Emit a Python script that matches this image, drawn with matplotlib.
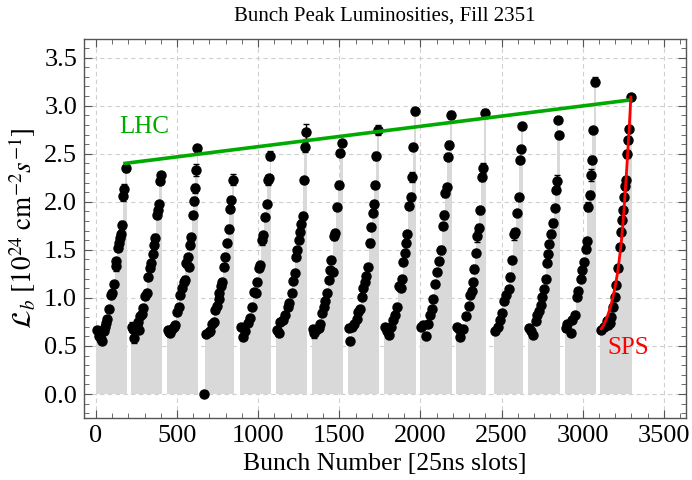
import numpy as np
import matplotlib
matplotlib.use("Agg")
import matplotlib.pyplot as plt
from matplotlib.ticker import MultipleLocator

plt.rcParams['font.family'] = ['Liberation Serif', 'DejaVu Serif']
plt.rcParams['mathtext.fontset'] = 'stix'

# bunch slot, peak luminosity [1e24 cm^-2 s^-1] and its error, one set per train
slots_01 = [5, 22, 30, 37, 48, 55, 60, 66, 78, 92, 98, 110, 122, 127, 136, 142, 148, 153, 162, 168, 174, 185]
lumi_01 = [0.67, 0.60, 0.57, 0.55, 0.66, 0.70, 0.74, 0.78, 0.89, 1.03, 1.05, 1.14, 1.33, 1.38, 1.52, 1.57, 1.62, 1.67, 1.76, 2.06, 2.13, 2.35]
err_01 = [0.02, 0.02, 0.03, 0.02, 0.02, 0.02, 0.03, 0.02, 0.03, 0.02, 0.02, 0.02, 0.05, 0.04, 0.03, 0.04, 0.03, 0.04, 0.04, 0.05, 0.06, 0.04]

slots_02 = [220, 231, 237, 251, 261, 268, 272, 282, 292, 302, 313, 323, 333, 339, 350, 358, 366, 374, 383, 389, 395, 403]
lumi_02 = [0.70, 0.68, 0.58, 0.71, 0.75, 0.67, 0.81, 0.83, 0.90, 1.02, 1.05, 1.22, 1.31, 1.36, 1.46, 1.55, 1.62, 1.86, 1.91, 1.98, 2.22, 2.28]
err_02 = [0.05, 0.03, 0.05, 0.03, 0.02, 0.03, 0.02, 0.02, 0.02, 0.03, 0.03, 0.02, 0.02, 0.02, 0.03, 0.04, 0.04, 0.03, 0.03, 0.02, 0.03, 0.03]

slots_03 = [444, 452, 459, 469, 479, 490, 500, 510, 520, 531, 541, 547, 555, 568, 572, 580, 588, 596, 602, 609, 617, 625]
lumi_03 = [0.67, 0.65, 0.63, 0.68, 0.70, 0.72, 0.85, 0.91, 1.03, 1.10, 1.17, 1.19, 1.36, 1.43, 1.32, 1.55, 1.63, 1.86, 2.01, 2.14, 2.33, 2.56]
err_03 = [0.02, 0.02, 0.03, 0.03, 0.02, 0.02, 0.03, 0.02, 0.03, 0.03, 0.03, 0.04, 0.04, 0.03, 0.03, 0.04, 0.04, 0.02, 0.04, 0.05, 0.06, 0.02]

slots_04 = [668, 681, 695, 705, 716, 726, 736, 746, 757, 761, 769, 777, 787, 798, 808, 818, 828, 835, 847]
lumi_04 = [0.00, 0.62, 0.65, 0.66, 0.73, 0.75, 0.87, 0.92, 0.99, 1.05, 1.12, 1.17, 1.32, 1.43, 1.57, 1.72, 1.93, 2.02, 2.23]
err_04 = [0.0, 0.02, 0.02, 0.03, 0.03, 0.02, 0.03, 0.03, 0.03, 0.03, 0.04, 0.03, 0.03, 0.03, 0.03, 0.04, 0.03, 0.03, 0.06]

slots_05 = [894, 908, 921, 935, 949, 962, 976, 986, 995, 1003, 1011, 1023, 1032, 1044, 1052, 1060, 1069, 1075]
lumi_05 = [0.70, 0.59, 0.66, 0.74, 0.79, 0.91, 1.06, 1.05, 1.17, 1.31, 1.34, 1.60, 1.65, 1.84, 1.98, 2.23, 2.25, 2.48]
err_05 = [0.03, 0.02, 0.02, 0.02, 0.02, 0.02, 0.02, 0.03, 0.03, 0.02, 0.02, 0.05, 0.02, 0.02, 0.02, 0.05, 0.03, 0.05]

slots_06 = [1114, 1126, 1136, 1151, 1167, 1182, 1192, 1206, 1217, 1225, 1233, 1239, 1249, 1258, 1264, 1274, 1280, 1288, 1295]
lumi_06 = [0.67, 0.63, 0.75, 0.77, 0.82, 0.91, 0.95, 1.05, 1.18, 1.26, 1.43, 1.50, 1.60, 1.69, 1.77, 1.85, 2.23, 2.57, 2.73]
err_06 = [0.02, 0.03, 0.03, 0.02, 0.03, 0.02, 0.03, 0.03, 0.02, 0.02, 0.03, 0.02, 0.02, 0.04, 0.04, 0.03, 0.02, 0.05, 0.08]

slots_07 = [1336, 1344, 1356, 1373, 1381, 1393, 1403, 1414, 1424, 1434, 1442, 1451, 1459, 1469, 1475, 1486, 1500, 1506, 1514]
lumi_07 = [0.68, 0.63, 0.67, 0.69, 0.73, 0.84, 0.91, 0.97, 1.05, 1.19, 1.29, 1.39, 1.27, 1.64, 1.68, 1.95, 2.18, 2.51, 2.61]
err_07 = [0.03, 0.05, 0.02, 0.02, 0.02, 0.02, 0.03, 0.02, 0.02, 0.02, 0.02, 0.02, 0.02, 0.04, 0.03, 0.03, 0.04, 0.02, 0.02]

slots_08 = [1557, 1568, 1578, 1592, 1607, 1617, 1627, 1640, 1648, 1656, 1664, 1674, 1689, 1697, 1705, 1711, 1720, 1728, 1736]
lumi_08 = [0.69, 0.55, 0.70, 0.73, 0.78, 0.85, 0.89, 1.01, 1.10, 1.17, 1.23, 1.32, 1.57, 1.74, 1.88, 1.98, 2.18, 2.48, 2.75]
err_08 = [0.03, 0.02, 0.02, 0.02, 0.03, 0.02, 0.02, 0.02, 0.03, 0.03, 0.02, 0.02, 0.04, 0.03, 0.03, 0.03, 0.02, 0.04, 0.05]

slots_09 = [1781, 1792, 1808, 1818, 1833, 1843, 1857, 1868, 1878, 1888, 1894, 1903, 1911, 1919, 1931, 1942, 1948, 1956, 1964]
lumi_09 = [0.70, 0.66, 0.61, 0.70, 0.77, 0.82, 0.91, 1.12, 1.10, 1.20, 1.37, 1.47, 1.57, 1.66, 1.96, 2.05, 2.26, 2.57, 2.94]
err_09 = [0.02, 0.03, 0.02, 0.03, 0.02, 0.02, 0.02, 0.04, 0.03, 0.03, 0.02, 0.02, 0.03, 0.03, 0.02, 0.04, 0.05, 0.02, 0.04]

slots_10 = [2001, 2013, 2034, 2044, 2059, 2069, 2079, 2089, 2104, 2112, 2124, 2137, 2145, 2153, 2161, 2170, 2176, 2186]
lumi_10 = [0.70, 0.72, 0.60, 0.73, 0.82, 0.88, 0.99, 1.15, 1.27, 1.38, 1.50, 1.75, 1.86, 2.09, 2.15, 2.47, 2.59, 2.90]
err_10 = [0.03, 0.03, 0.02, 0.02, 0.02, 0.02, 0.02, 0.03, 0.03, 0.04, 0.04, 0.03, 0.04, 0.04, 0.03, 0.04, 0.04, 0.04]

slots_11 = [2225, 2236, 2246, 2262, 2282, 2297, 2307, 2317, 2324, 2332, 2342, 2348, 2358, 2367, 2379, 2387, 2400]
lumi_11 = [0.70, 0.68, 0.59, 0.68, 0.81, 0.92, 1.03, 1.07, 1.17, 1.30, 1.47, 1.64, 1.73, 1.91, 2.26, 2.35, 2.92]
err_11 = [0.02, 0.02, 0.02, 0.02, 0.02, 0.02, 0.02, 0.03, 0.03, 0.04, 0.03, 0.06, 0.04, 0.04, 0.04, 0.05, 0.05]

slots_12 = [2461, 2476, 2488, 2502, 2517, 2527, 2543, 2550, 2564, 2574, 2584, 2595, 2605, 2613, 2619, 2625]
lumi_12 = [0.66, 0.70, 0.77, 0.84, 0.97, 1.03, 1.09, 1.22, 1.39, 1.66, 1.69, 1.88, 2.05, 2.43, 2.55, 2.79]
err_12 = [0.02, 0.03, 0.03, 0.03, 0.03, 0.03, 0.03, 0.04, 0.02, 0.06, 0.03, 0.02, 0.03, 0.02, 0.02, 0.02]

slots_13 = [2669, 2683, 2695, 2710, 2720, 2730, 2740, 2751, 2761, 2771, 2782, 2788, 2794, 2806, 2816, 2827, 2833, 2839, 2846, 2851]
lumi_13 = [0.69, 0.66, 0.61, 0.76, 0.82, 0.86, 0.93, 1.01, 1.09, 1.20, 1.36, 1.46, 1.56, 1.67, 1.78, 1.94, 2.12, 2.22, 2.85, 2.69]
err_13 = [0.03, 0.02, 0.02, 0.02, 0.02, 0.02, 0.02, 0.02, 0.02, 0.02, 0.02, 0.02, 0.02, 0.04, 0.04, 0.02, 0.03, 0.06, 0.03, 0.02]

slots_14 = [2894, 2905, 2925, 2936, 2950, 2962, 2972, 2987, 2997, 3007, 3018, 3024, 3034, 3042, 3049, 3055, 3065, 3073]
lumi_14 = [0.69, 0.73, 0.64, 0.77, 0.82, 1.01, 1.07, 1.20, 1.29, 1.37, 1.51, 1.59, 1.95, 2.07, 2.28, 2.44, 2.75, 3.25]
err_14 = [0.03, 0.03, 0.03, 0.02, 0.02, 0.02, 0.03, 0.03, 0.03, 0.02, 0.04, 0.03, 0.05, 0.04, 0.06, 0.04, 0.02, 0.05]

slots_15 = [3114, 3131, 3147, 3158, 3168, 3176, 3188, 3196, 3207, 3217, 3227, 3233, 3239, 3248, 3254, 3260, 3266, 3274, 3281, 3287, 3295]
lumi_15 = [0.67, 0.70, 0.76, 0.72, 0.74, 0.80, 0.91, 1.01, 1.13, 1.31, 1.53, 1.69, 1.81, 1.91, 2.05, 2.16, 2.23, 2.50, 2.64, 2.76, 3.09]
err_15 = [0.02, 0.03, 0.04, 0.03, 0.03, 0.02, 0.03, 0.03, 0.03, 0.03, 0.03, 0.04, 0.04, 0.03, 0.03, 0.04, 0.03, 0.04, 0.03, 0.03, 0.03]

# LHC envelope across the fill and the SPS-like growth within the last train
lhc_slot = [180, 3295]
lhc_lumi = [2.40, 3.06]
sps_slot = [3114, 3130, 3150, 3172, 3190, 3203, 3215, 3225, 3237, 3246, 3254, 3262, 3270, 3278, 3285, 3291, 3296]
sps_lumi = [0.68, 0.72, 0.80, 0.91, 1.04, 1.15, 1.27, 1.40, 1.57, 1.74, 1.92, 2.12, 2.32, 2.54, 2.73, 2.92, 3.09]

trains = [
    (slots_01, lumi_01, err_01), (slots_02, lumi_02, err_02), (slots_03, lumi_03, err_03),
    (slots_04, lumi_04, err_04), (slots_05, lumi_05, err_05), (slots_06, lumi_06, err_06),
    (slots_07, lumi_07, err_07), (slots_08, lumi_08, err_08), (slots_09, lumi_09, err_09),
    (slots_10, lumi_10, err_10), (slots_11, lumi_11, err_11), (slots_12, lumi_12, err_12),
    (slots_13, lumi_13, err_13), (slots_14, lumi_14, err_14), (slots_15, lumi_15, err_15),
]

fig = plt.figure(figsize=(6.92, 4.80), dpi=100)
ax = fig.add_axes([0.1214, 0.129, 0.8699, 0.790])

for s, l, e in trains:
    s = np.array(s, dtype=float)
    l = np.array(l, dtype=float)
    # each bunch gets a bar reaching halfway to its neighbours
    mids = (s[1:] + s[:-1]) / 2
    edges = np.concatenate([[s[0] - 6], mids, [s[-1] + 6]])
    ax.bar(edges[:-1], l, width=np.diff(edges), align='edge', color='#d9d9d9',
           edgecolor='none', linewidth=0, zorder=1)
    ax.errorbar(s, l, yerr=e, fmt='o', color='black', ms=6.5, elinewidth=1.0,
                capsize=2.2, capthick=1.0, zorder=3)

ax.plot(lhc_slot, lhc_lumi, color='#00aa00', lw=2.6, zorder=4)
ax.plot(sps_slot, sps_lumi, color='#ff0000', lw=2.0, zorder=4)

ax.text(300, 2.78, 'LHC', color='#00aa00', fontsize=18, ha='center', va='center')
ax.text(3280, 0.48, 'SPS', color='#ff0000', fontsize=18, ha='center', va='center')

ax.set_xlim(-73, 3636)
ax.set_ylim(-0.25, 3.695)
ax.xaxis.set_major_locator(MultipleLocator(500))
ax.xaxis.set_minor_locator(MultipleLocator(100))
ax.yaxis.set_major_locator(MultipleLocator(0.5))
ax.yaxis.set_minor_locator(MultipleLocator(0.1))
ax.yaxis.set_major_formatter(matplotlib.ticker.FormatStrFormatter('%.1f'))

ax.grid(True, which='major', color='#d0d0d0', linestyle=(0, (4, 3)), linewidth=0.8)
ax.set_axisbelow(True)

ax.tick_params(which='both', direction='in', top=True, right=True, colors='#555555',
               labelcolor='black', labelsize=19)
ax.tick_params(which='major', length=6, width=0.8, pad=5)
ax.tick_params(which='minor', length=3.5, width=0.6)
for sp in ax.spines.values():
    sp.set_color('#555555')
    sp.set_linewidth(1.0)

ax.set_title('Bunch Peak Luminosities, Fill 2351', fontsize=15, pad=13)
ax.set_xlabel('Bunch Number [25ns slots]', fontsize=18.5, labelpad=4)
ax.set_ylabel(r'$\mathcal{L}_b\ [10^{24}\ \mathrm{cm}^{-2} s^{-1}]$', fontsize=19.5, labelpad=4)

fig.savefig('out.png', dpi=100)
